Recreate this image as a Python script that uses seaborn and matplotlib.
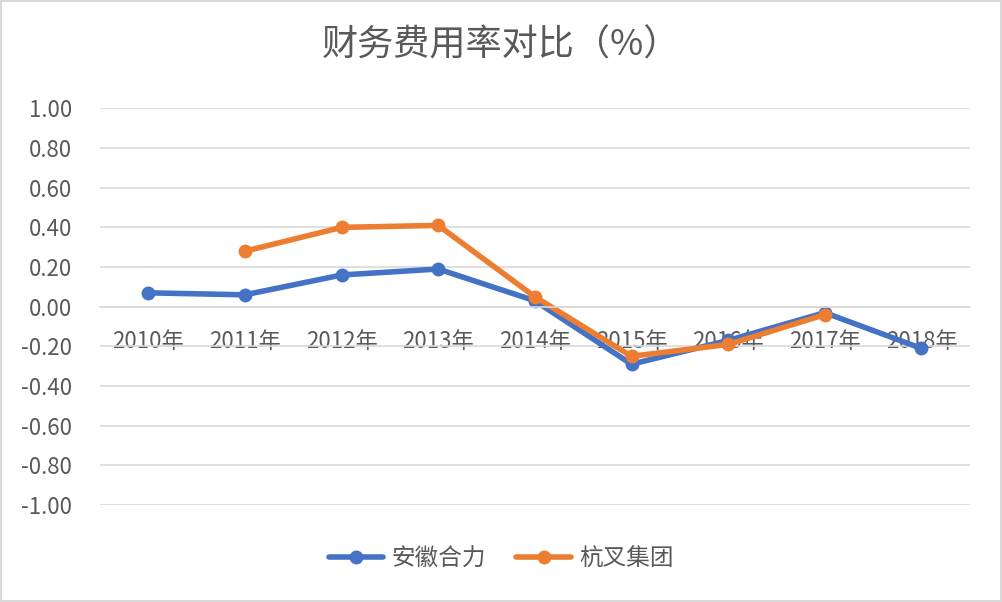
import numpy as np
import pandas as pd
import seaborn as sns
from matplotlib import pyplot as plt

years = ['2010年', '2011年', '2012年', '2013年', '2014年', '2015年', '2016年', '2017年', '2018年']
heli = [0.07, 0.06, 0.16, 0.19, 0.03, -0.29, -0.17, -0.03, -0.21]
hangcha = [np.nan, 0.28, 0.40, 0.41, 0.05, -0.25, -0.19, -0.04, np.nan]
series_names = ['安徽合力', '杭叉集团']
colors = ['#4472C4', '#ED7D31']
yticks = [-1.0, -0.8, -0.6, -0.4, -0.2, 0.0, 0.2, 0.4, 0.6, 0.8, 1.0]

sns.set_theme(style='white')
plt.rcParams['font.family'] = ['Noto Sans CJK SC', 'DejaVu Sans']

df = pd.DataFrame({
    'year': years * 2,
    'value': heli + hangcha,
    'series': [series_names[0]] * len(years) + [series_names[1]] * len(years),
}).dropna()

fig = plt.figure(figsize=(10.02, 6.02), dpi=100)
fig.patch.set_edgecolor('#D9D9D9')
fig.patch.set_linewidth(1.5)
ax = fig.add_axes([0.0998, 0.161, 0.868, 0.659])

sns.lineplot(data=df, x='year', y='value', hue='series', palette=colors,
             marker='o', markersize=10, markeredgewidth=0, linewidth=4,
             sort=False, ax=ax, legend=False)

ax.set_xlim(-0.5, len(years) - 0.5)
ax.set_ylim(-1.0, 1.0)
ax.set_yticks(yticks)
ax.set_yticklabels([f'{v:.2f}' for v in yticks])
ax.set_xticks(range(len(years)))
ax.set_xticklabels(years)
ax.set_xlabel('')
ax.set_ylabel('')
ax.yaxis.grid(True, color='#D9D9D9', linewidth=1.2)
ax.set_axisbelow(True)
for s in ['left', 'right', 'top']:
    ax.spines[s].set_visible(False)
ax.spines['bottom'].set_position(('data', 0))
ax.spines['bottom'].set_color('#D9D9D9')
ax.spines['bottom'].set_linewidth(1.2)
ax.tick_params(axis='x', length=0, pad=17, labelsize=16, labelcolor='#595959')
ax.tick_params(axis='y', length=0, pad=20, labelsize=16, labelcolor='#595959')

fig.text(0.5, 0.925, '财务费用率对比（%）', ha='center', va='center',
         fontsize=26, color='#595959')

handles = [plt.Line2D([], [], color=c, linewidth=4, marker='o', markersize=10,
                      markeredgewidth=0) for c in colors]
fig.legend(handles, series_names, loc='center', bbox_to_anchor=(0.5, 0.071),
           ncol=2, frameon=False, fontsize=17, labelcolor='#595959',
           handlelength=2.3, handletextpad=0.35, columnspacing=1.3)

fig.savefig('out.png', dpi=100, edgecolor=fig.get_edgecolor())
